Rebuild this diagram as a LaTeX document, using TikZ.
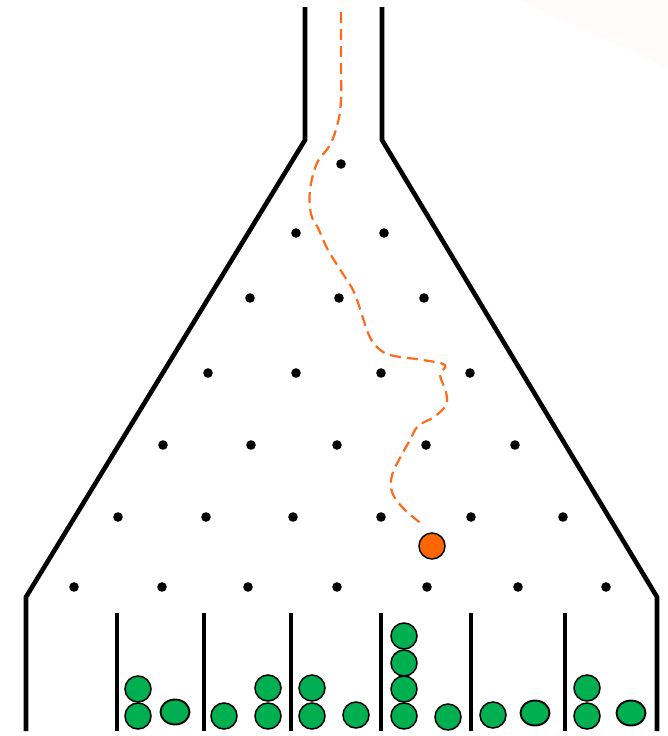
\documentclass[tikz,border=0pt]{standalone}
\definecolor{ballgreen}{HTML}{00B050}
\definecolor{ballorange}{HTML}{FF6600}
\definecolor{pathorange}{HTML}{FF6A1A}
\definecolor{cornerpink}{HTML}{FFFBFA}
\tikzset{
  wall/.style={line width=4.6pt, black},
  peg/.style={fill=black},
  gball/.style={fill=ballgreen, draw=black, line width=1.5pt},
  oball/.style={fill=ballorange, draw=black, line width=1.5pt},
  trail/.style={draw=pathorange, line width=2.2pt, dash pattern=on 11pt off 6pt}
}
\begin{document}
\begin{tikzpicture}[x=1pt,y=-1pt]
\useasboundingbox (0,0) rectangle (668,736);
% faint corner
\fill[cornerpink] (520,0) -- (668,0) -- (668,68) -- cycle;
% tube and funnel
\draw[wall] (305,7) -- (305,140) -- (26,597) -- (26,731);
\draw[wall] (382,7) -- (382,140) -- (657,597) -- (657,731);
% bin dividers
\foreach \x in {117,204,291,381,471,565}
  \draw[wall, line width=4.3pt] (\x,613) -- (\x,731);
% pegs
\foreach \x/\y in {341/164,
  296/233, 384/233,
  250/298, 339/298, 424/298,
  208/373, 296/373, 381/373, 470/373,
  163/445, 251/445, 337/445, 426/445, 515/445,
  118/517, 206/517, 293/517, 381/517, 471/517, 563/517,
  74/587, 162/587, 248/587, 337/587, 427/587, 518/587, 606/587}
  \fill[peg] (\x,\y) circle (4.8);
% trail
\draw[trail] plot[smooth, tension=0.6] coordinates {
  (341,12) (341,60) (341,100) (338,122) (330,145) (317,163) (310,190)
  (311,214) (318,228) (328,250) (343,274) (354,292) (362,315) (368,333)
  (376,346) (390,355) (423,360) (445,365) (440,375) (446,392) (446,405)
  (434,417) (418,426) (410,440) (400,458) (392,475) (392,492) (403,508) (423,525)};
% falling ball
\filldraw[oball] (432,546) circle (13);
% green balls
\foreach \x/\y in {138/689, 138/716, 224/716, 268/688, 268/716, 312/688, 312/716,
  356/715, 404/636, 404/663, 404/689, 404/716, 448/717, 493/715, 587/688, 587/716}
  \filldraw[gball] (\x,\y) circle (13);
\foreach \x/\y in {175/712, 535/713, 631/713}
  \filldraw[gball, line width=1.9pt] (\x,\y) ellipse (14.5 and 12.5);
\end{tikzpicture}
\end{document}
